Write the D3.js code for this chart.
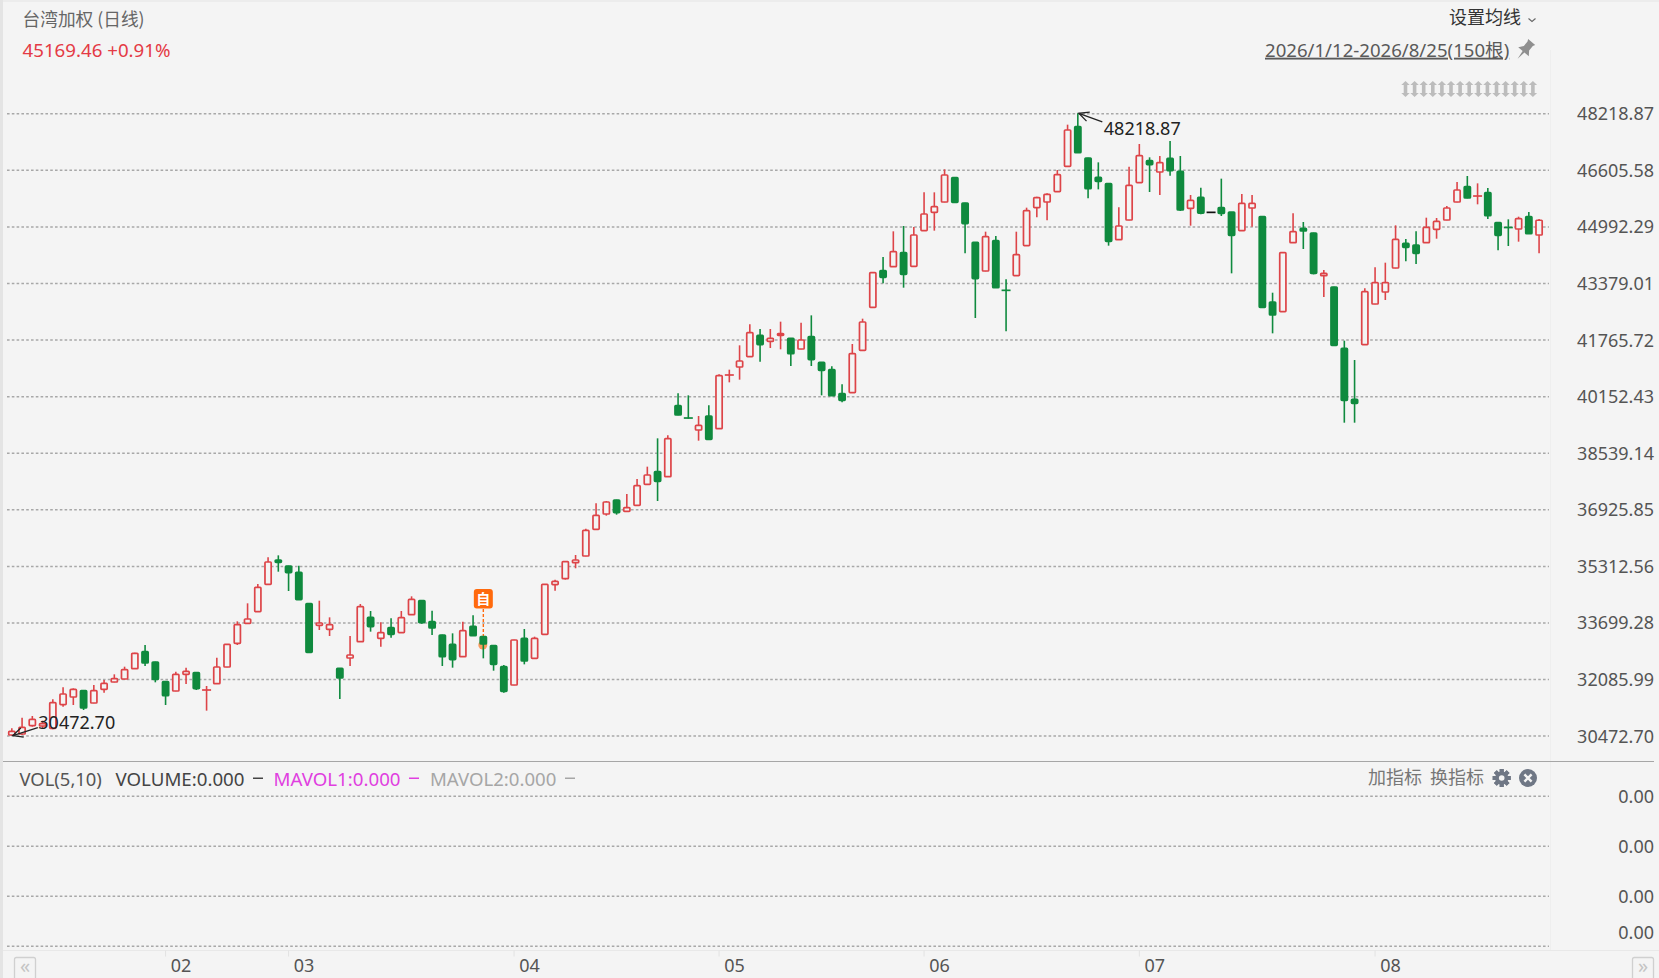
<!DOCTYPE html>
<html>
<head>
<meta charset="utf-8">
<title>台湾加权 (日线)</title>
<script src="https://cdn.jsdelivr.net/npm/d3@7"></script>
<style>
  html, body { margin: 0; padding: 0; background: #f4f4f4; overflow: hidden; }
  svg { display: block; }
  text { font-family: "Noto Sans", "Noto Sans CJK SC", sans-serif; }
  .cjk { font-family: "Noto Sans CJK SC", "Noto Sans", sans-serif; }
  .domain { display: none; }
</style>
</head>
<body>
<svg id="chart" width="1659" height="978"></svg>
<script>
// daily candles
const opens = [
  30490, 30518, 30756, 30746, 30680, 31355, 31573, 31754, 31402, 31792,
  32001, 32087, 32381, 32866, 32571, 32011, 31744, 32220, 32267, 31754,
  31953, 32429, 33104, 33674, 34007, 34786, 35480, 35309, 35129, 34235,
  33617, 33503, 32391, 32686, 33151, 33845, 33246, 33550, 33408, 33921,
  34320, 33722, 33342, 33075, 32723, 33589, 33294, 33037, 32438, 31915,
  33246, 32676, 33360, 34777, 34947, 35403, 35594, 36354, 36792, 37191,
  36868, 37039, 37638, 37999, 37856, 39881, 39548, 39187, 39586, 39225,
  40737, 40984, 41279, 41887, 41716, 41887, 41801, 41497, 41849, 41117,
  40908, 40223, 40252, 41459, 42685, 43731, 43845, 44244, 43855, 44872,
  45395, 45689, 46383, 45661, 44539, 43722, 44587, 43180, 43589, 44444,
  45528, 45689, 45984, 46706, 47838, 46944, 46393, 46212, 44615, 45176,
  46241, 46868, 46545, 46934, 46564, 45509, 45822, 45394, 45528, 45404,
  44872, 45518, 45271, 42837, 42562, 44529, 44938, 44805, 43588, 43265,
  41516, 40062, 41621, 42780, 43123, 43807, 44510, 44463, 44529, 44910,
  45176, 45689, 46126, 45841, 45955, 45100, 44976, 44919, 45271, 44748
]
const closes = [
  30594, 30708, 30936, 30813, 31412, 31659, 31792, 31260, 31754, 31963,
  32096, 32353, 32819, 32543, 32077, 31611, 32220, 32305, 31811, 31792,
  32429, 33075, 33636, 33798, 34701, 35423, 35414, 35119, 34349, 32847,
  33684, 33636, 32115, 32771, 34149, 33579, 33408, 33360, 33836, 34358,
  33693, 33541, 32723, 32638, 33465, 33322, 33085, 32505, 31735, 33199,
  32600, 33246, 34786, 34872, 35432, 35480, 36326, 36754, 37134, 36830,
  36972, 37600, 37904, 37723, 38940, 39615, 39510, 39320, 38921, 40737,
  40775, 41155, 41963, 41621, 41801, 41934, 41364, 41754, 41193, 40889,
  40166, 40033, 41364, 42267, 43674, 43541, 44273, 43627, 44748, 45347,
  45556, 46460, 45680, 45072, 43503, 44701, 43246, 43161, 44188, 45442,
  45813, 45908, 46469, 47742, 47096, 46069, 46279, 44567, 45005, 46164,
  47010, 46754, 46811, 46583, 45461, 45737, 45375, 45394, 45366, 44739,
  45651, 45651, 42685, 42467, 44244, 44843, 44862, 43655, 43655, 41602,
  40033, 39948, 43132, 43389, 43389, 44624, 44396, 44225, 44967, 45138,
  45518, 46031, 45803, 45879, 45299, 44739, 44948, 45214, 44786, 45169.46
]
const highs = [
  30680, 30984, 31031, 30898, 31507, 31849, 31820, 31773, 31915, 32058,
  32220, 32438, 32838, 33056, 32581, 32020, 32296, 32410, 32277, 31887,
  32695, 33085, 33731, 34245, 34796, 35556, 35613, 35319, 35319, 34245,
  34320, 33845, 32400, 33313, 34225, 34026, 33703, 33817, 34026, 34444,
  34330, 34035, 33351, 33389, 33722, 33902, 33294, 33047, 32486, 33208,
  33512, 33294, 34796, 34919, 35452, 35623, 36373, 37096, 37162, 37200,
  37362, 37790, 38142, 38950, 39035, 40233, 40176, 39586, 39891, 40775,
  40908, 41602, 42201, 42068, 42068, 42277, 41811, 42248, 42457, 41126,
  41003, 40490, 41640, 42362, 43684, 44121, 44853, 45005, 44976, 45965,
  45965, 46621, 46393, 45671, 44549, 44843, 44720, 43484, 44843, 45528,
  45841, 45936, 46602, 47895, 48218.87, 46953, 46820, 46221, 45537, 46697,
  47343, 46963, 47001, 47429, 47001, 45889, 46098, 45394, 46355, 45404,
  45917, 45889, 45280, 43103, 44254, 45366, 45119, 44815, 43750, 43275,
  41735, 41183, 43227, 43826, 43959, 45024, 44634, 44853, 45242, 45233,
  45575, 46259, 46431, 46221, 46088, 45119, 45195, 45271, 45404, 45204
]
const lows = [
  30472.7, 30490, 30727, 30680, 30651, 31298, 31345, 31203, 31393, 31697,
  31992, 32077, 32372, 32457, 31992, 31345, 31735, 31944, 31773, 31184,
  31944, 32419, 33056, 33664, 33997, 34777, 35147, 34596, 34340, 32838,
  33484, 33313, 31516, 32457, 33142, 33437, 33009, 33265, 33398, 33912,
  33664, 33342, 32457, 32410, 32714, 33313, 32676, 32324, 31697, 31906,
  32505, 32667, 33351, 34606, 34921, 35244, 35584, 36345, 36744, 36773,
  36858, 37029, 37628, 37162, 37847, 39605, 39510, 38883, 38912, 39216,
  40547, 40623, 41269, 41136, 41526, 41488, 41012, 41488, 41012, 40176,
  40157, 39976, 40242, 41450, 42676, 43370, 43836, 43246, 43845, 44862,
  44872, 45680, 45671, 44226, 42381, 43712, 43237, 42001, 43579, 44435,
  45252, 45166, 45974, 46697, 47087, 45794, 46050, 44444, 44605, 45166,
  46231, 45974, 45889, 46440, 45432, 45014, 45337, 45394, 45290, 43655,
  44862, 44986, 42676, 41944, 42552, 44520, 44349, 43626, 42980, 41583,
  39396, 39396, 41611, 42771, 42894, 43797, 43997, 43921, 44520, 44643,
  45166, 45680, 45794, 45623, 45204, 44311, 44434, 44558, 44776, 44225
]

const priceTicks = [48218.87, 46605.58, 44992.29, 43379.01, 41765.72, 40152.43,
  38539.14, 36925.85, 35312.56, 33699.28, 32085.99, 30472.7]
const volumeTicks = [0.03, 0.02, 0.01, 0]
const monthTicks = [15, 27, 49, 69, 89, 110, 133]
const monthLabels = ['02', '03', '04', '05', '06', '07', '08']

const maxIndex = highs.indexOf(d3.max(highs))
const minIndex = lows.indexOf(d3.min(lows))
const markIndex = 46

const bg = '#f4f4f4'
const red = '#dd4448'
const green = '#0f8a3e'
const orange = '#ff6a0d'

const svg = d3.select('#chart')
const candles = d3.range(opens.length).map((i) => ({
  i, open: opens[i], high: highs[i], low: lows[i], close: closes[i]
}))

const x = d3.scaleBand()
  .domain(candles.map((d) => d.i))
  .range([6.7, 1544.2])
const cx = (i) => x(i) + x.bandwidth() / 2
const y = d3.scaleLinear()
  .domain([d3.min(priceTicks), d3.max(priceTicks)])
  .range([735.6, 113.3])
const yVol = d3.scaleLinear()
  .domain([0, 0.03])
  .range([945.7, 795.7])

// page furniture
svg.append('rect').attr('width', 1659).attr('height', 978).attr('fill', bg)
svg.append('rect').attr('width', 1659).attr('height', 2).attr('fill', '#ececec')
svg.append('rect').attr('width', 3).attr('height', 978).attr('fill', '#e4e4e4')
svg.append('line').attr('x1', 1550.5).attr('x2', 1550.5).attr('y1', 50).attr('y2', 950)
  .attr('stroke', '#eeeeee')

// price grid + labels
const priceAxis = svg.append('g')
  .attr('transform', 'translate(7,0)')
  .call(d3.axisRight(y).tickValues(priceTicks).tickSize(1542).tickFormat(d3.format('.2f')))
priceAxis.selectAll('line')
  .attr('stroke', '#a8a8a8').attr('stroke-width', 1.5).attr('stroke-dasharray', '2.6,2.2')
priceAxis.selectAll('text')
  .attr('x', 1647).attr('text-anchor', 'end').attr('dy', '0.36em')
  .attr('font-size', 18).attr('fill', '#555')

// volume pane, all zero
svg.append('line').attr('x1', 3).attr('x2', 1654).attr('y1', 761.5).attr('y2', 761.5)
  .attr('stroke', '#a6a6a6')
const volAxis = svg.append('g')
  .attr('transform', 'translate(7,0)')
  .call(d3.axisRight(yVol).tickValues(volumeTicks).tickSize(1542).tickFormat(() => '0.00'))
volAxis.selectAll('line')
  .attr('stroke', '#a8a8a8').attr('stroke-width', 1.5).attr('stroke-dasharray', '2.6,2.2')
volAxis.selectAll('text')
  .attr('x', 1647).attr('text-anchor', 'end').attr('dy', '0.36em')
  .attr('font-size', 18).attr('fill', '#555')
volAxis.selectAll('.tick').filter((d) => d === 0).select('text')
  .attr('y', -13.5)

// month axis
svg.append('line').attr('x1', 3).attr('x2', 1659).attr('y1', 950.5).attr('y2', 950.5)
  .attr('stroke', '#e8e8e8')
const monthAxis = svg.append('g')
  .attr('transform', 'translate(0,950.5)')
  .call(d3.axisBottom(x).tickValues(monthTicks).tickSize(6)
    .tickFormat((d) => monthLabels[monthTicks.indexOf(d)]))
monthAxis.selectAll('line').attr('stroke', '#e2e2e2')
monthAxis.selectAll('text')
  .attr('x', 15.5).attr('y', 15.5).attr('dy', '0.36em')
  .attr('font-size', 18).attr('fill', '#555')

// orange marker sits behind the candle
const markY = y(closes[markIndex]) + 1
const mark = svg.append('g')
mark.append('circle').attr('cx', cx(markIndex) - 0.5).attr('cy', markY).attr('r', 4.5)
  .attr('fill', orange).attr('opacity', 0.65)
mark.append('line')
  .attr('x1', cx(markIndex)).attr('x2', cx(markIndex))
  .attr('y1', markY - 36).attr('y2', markY)
  .attr('stroke', orange).attr('stroke-width', 1.4).attr('stroke-dasharray', '3,2')
mark.append('rect')
  .attr('x', cx(markIndex) - 9.5).attr('y', markY - 56)
  .attr('width', 19).attr('height', 19.5).attr('rx', 3)
  .attr('fill', orange)
mark.append('text').attr('class', 'cjk')
  .attr('x', cx(markIndex)).attr('y', markY - 46.5).attr('dy', '0.36em')
  .attr('text-anchor', 'middle').attr('font-size', 14).attr('font-weight', 700).attr('fill', '#fff')
  .text('自')

// candles
const colorOf = (d) => (d.close > d.open ? red : d.close < d.open ? green : '#111')
const isFlat = (d) => Math.abs(d.close - d.open) < 40
const bar = svg.append('g').selectAll('g')
  .data(candles)
  .join('g')
bar.append('line')
  .attr('x1', (d) => cx(d.i)).attr('x2', (d) => cx(d.i))
  .attr('y1', (d) => y(d.high)).attr('y2', (d) => y(d.low))
  .attr('stroke', colorOf).attr('stroke-width', 1.6)
bar.filter((d) => !isFlat(d)).append('rect')
  .attr('x', (d) => cx(d.i) - 3.1)
  .attr('y', (d) => y(Math.max(d.open, d.close)))
  .attr('width', 6.2)
  .attr('height', (d) => Math.abs(y(d.open) - y(d.close)))
  .attr('rx', 0.8)
  .attr('fill', (d) => (d.close > d.open ? bg : green))
  .attr('stroke', colorOf).attr('stroke-width', 1.7)
bar.filter(isFlat).append('line')
  .attr('x1', (d) => cx(d.i) - 4.5).attr('x2', (d) => cx(d.i) + 4.5)
  .attr('y1', (d) => y((d.open + d.close) / 2)).attr('y2', (d) => y((d.open + d.close) / 2))
  .attr('stroke', colorOf).attr('stroke-width', 1.7)

// high / low callouts
function callout(i, value, dx, dy, label, labelDx, labelDy) {
  const tipX = cx(i) + 1
  const tipY = y(value)
  const g = svg.append('g')
  const ang = Math.atan2(dy, dx)
  const head = (a) => [tipX + 11 * Math.cos(ang + a), tipY + 11 * Math.sin(ang + a)]
  g.append('path')
    .attr('d', d3.line()([head(0.45), [tipX, tipY], head(-0.45)]))
    .attr('fill', 'none').attr('stroke', '#222').attr('stroke-width', 1.3)
  g.append('line')
    .attr('x1', tipX).attr('y1', tipY).attr('x2', tipX + dx).attr('y2', tipY + dy)
    .attr('stroke', '#222').attr('stroke-width', 1.3)
  g.append('text')
    .attr('x', tipX + labelDx).attr('y', tipY + labelDy).attr('dy', '0.36em')
    .attr('font-size', 18).attr('fill', '#222')
    .text(label)
}
callout(maxIndex, highs[maxIndex], 23.5, 8.5, d3.format('.2f')(highs[maxIndex]), 25, 15)
callout(minIndex, lows[minIndex], 25, -8, d3.format('.2f')(lows[minIndex]), 25.5, -13.5)

// header text
const label = (tx, ty, text, size, fill, anchor) => svg.append('text')
  .attr('x', tx).attr('y', ty).attr('dy', '0.36em')
  .attr('text-anchor', anchor || 'start')
  .attr('font-size', size).attr('fill', fill)
  .text(text)

label(22.5, 20, '台湾加权 (日线)', 17.7, '#666').attr('class', 'cjk')
label(22.5, 50, '45169.46 +0.91%', 18.7, '#e43a45')
label(1449, 18, '设置均线', 18, '#333').attr('class', 'cjk')
svg.append('path')
  .attr('d', 'M1528.5,18.5 L1532,21.5 L1535.5,18.5')
  .attr('fill', 'none').attr('stroke', '#666').attr('stroke-width', 1.1)
label(1265, 50, '2026/1/12-2026/8/25(150根)', 18.6, '#5a5a5a')
  .attr('text-decoration', 'underline')

// pin
svg.append('path')
  .attr('transform', 'translate(1525,50) rotate(40) scale(1.15)')
  .attr('d', 'M-4,-9 L4,-9 L3,-7 L3,-2 L6,2 L1,2 L0,10 L-1,2 L-6,2 L-3,-2 L-3,-7 Z')
  .attr('fill', '#8f8f8f')

// row of collapsed arrows
svg.append('g').selectAll('path')
  .data(d3.range(15))
  .join('path')
  .attr('transform', (d) => `translate(${1405.5 + d * 9.1},89)`)
  .attr('d', 'M-1.8,-3 L-1.8,-4 L-4.2,-4 L0,-8 L4.2,-4 L1.8,-4 L1.8,4 L4.2,4 L0,8 L-4.2,4 L-1.8,4 Z')
  .attr('fill', '#bcbcbc')

// volume legend
label(19.5, 779, 'VOL(5,10)', 18.4, '#555')
label(115.5, 779, 'VOLUME:0.000', 18.7, '#444')
label(273.5, 779, 'MAVOL1:0.000', 18.7, '#e03fe0')
label(430, 779, 'MAVOL2:0.000', 18.6, '#a6a6a6')
const dashes = [[253, '#444'], [409, '#e03fe0'], [565, '#a6a6a6']]
svg.append('g').selectAll('rect')
  .data(dashes)
  .join('rect')
  .attr('x', (d) => d[0]).attr('y', 777.5).attr('width', 10).attr('height', 1.5)
  .attr('fill', (d) => d[1])

label(1368, 778, '加指标', 18, '#777').attr('class', 'cjk')
label(1430, 778, '换指标', 18, '#777').attr('class', 'cjk')

// gear + close icons
const iconGrey = '#6f7785'
const gear = svg.append('g').attr('transform', 'translate(1501.7,778)')
gear.selectAll('rect')
  .data(d3.range(8))
  .join('rect')
  .attr('x', -2).attr('y', -9).attr('width', 4).attr('height', 18)
  .attr('transform', (d) => `rotate(${d * 45})`)
  .attr('fill', iconGrey)
gear.append('circle').attr('r', 6.6).attr('fill', iconGrey)
gear.append('circle').attr('r', 2.8).attr('fill', bg)
const closeIcon = svg.append('g').attr('transform', 'translate(1528,778)')
closeIcon.append('circle').attr('r', 9).attr('fill', iconGrey)
closeIcon.append('path').attr('d', 'M-3.6,-3.6 L3.6,3.6 M3.6,-3.6 L-3.6,3.6')
  .attr('stroke', bg).attr('stroke-width', 2.4)

// scroll buttons at the foot
const scrollButton = (bx, text) => {
  svg.append('rect').attr('x', bx).attr('y', 957.5).attr('width', 21).attr('height', 22).attr('rx', 2)
    .attr('fill', 'none').attr('stroke', '#d0d0d0').attr('stroke-width', 1.3)
  label(bx + 10.5, 966, text, 20, '#c4c4c4', 'middle')
}
scrollButton(14.5, '«')
scrollButton(1632.5, '»')
</script>
</body>
</html>
